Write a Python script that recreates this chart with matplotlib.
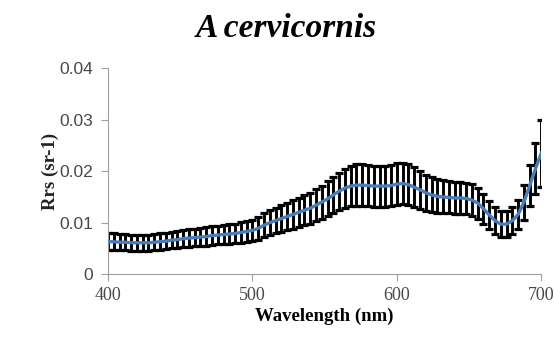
import matplotlib.pyplot as plt
import numpy as np

# spectra, every 4 nm
wavelength = list(range(400, 701, 4))
rrs_mean = [0.0063, 0.0063, 0.0062, 0.0062, 0.0061, 0.0061, 0.0061, 0.0061, 0.0062, 0.0063,
            0.0064, 0.0066, 0.0067, 0.0069, 0.0070, 0.0071, 0.0072, 0.0073, 0.0075, 0.0076,
            0.0077, 0.0078, 0.0079, 0.0081, 0.0083, 0.0085,
            0.0089, 0.0095, 0.0100, 0.0104, 0.0108, 0.0112, 0.0116, 0.0120, 0.0124, 0.0128,
            0.0134, 0.0140, 0.0146, 0.0154, 0.0161, 0.0167, 0.0171, 0.0173, 0.0173, 0.0172,
            0.0171, 0.0171, 0.0171, 0.0172, 0.0175,
            0.0176, 0.0174, 0.0169, 0.0164, 0.0158, 0.0154, 0.0151, 0.0150, 0.0149, 0.0148,
            0.0148, 0.0147, 0.0144, 0.0138, 0.0127, 0.0115, 0.0104, 0.0097, 0.0097, 0.0104,
            0.0116, 0.0140, 0.0172, 0.0205, 0.0235]
rrs_err = [0.0016, 0.0016, 0.0016, 0.0016, 0.0016, 0.0016, 0.0016, 0.0016, 0.0016, 0.0016,
           0.0016, 0.0016, 0.0017, 0.0017, 0.0017, 0.0017, 0.0018, 0.0018, 0.0018, 0.0018,
           0.0019, 0.0019, 0.0019, 0.0020, 0.0020, 0.0021,
           0.0022, 0.0023, 0.0024, 0.0025, 0.0026, 0.0027, 0.0028, 0.0028, 0.0029, 0.0030,
           0.0031, 0.0032, 0.0034, 0.0035, 0.0036, 0.0038, 0.0039, 0.0040, 0.0040, 0.0040,
           0.0040, 0.0040, 0.0040, 0.0040, 0.0040,
           0.0040, 0.0040, 0.0039, 0.0037, 0.0035, 0.0034, 0.0033, 0.0032, 0.0031, 0.0031,
           0.0031, 0.0031, 0.0031, 0.0030, 0.0029, 0.0027, 0.0026, 0.0025, 0.0025, 0.0026,
           0.0029, 0.0034, 0.0040, 0.0050, 0.0065]

serif = 'Liberation Serif'
fig = plt.figure(figsize=(5.54, 3.41), dpi=100)
ax = fig.add_axes([0.195, 0.196, 0.782, 0.604])

ax.errorbar(wavelength, rrs_mean, yerr=rrs_err, fmt='none', ecolor='black',
            elinewidth=2.1, capsize=2.8, capthick=2.3, zorder=2)
ax.plot(wavelength, rrs_mean, color='#4a7ebb', lw=2.4, zorder=3)

ax.set_xlim(400, 700)
ax.set_ylim(0, 0.04)
ax.set_xticks([400, 500, 600, 700])
ax.set_yticks([0, 0.01, 0.02, 0.03, 0.04])
ax.set_yticklabels(['0', '0.01', '0.02', '0.03', '0.04'], fontsize=12.5,
                   family='Liberation Sans')
ax.set_xticklabels(['400', '500', '600', '700'], fontsize=13, family=serif)
for s in ['top', 'right']:
    ax.spines[s].set_visible(False)
for s in ['left', 'bottom']:
    ax.spines[s].set_color('#a0a0a0')
ax.tick_params(colors='#a0a0a0', length=5, labelcolor='#484848')
ax.tick_params(axis='x', pad=4)
ax.tick_params(axis='y', pad=6)

ax.set_xlabel('Wavelength (nm)', fontsize=13.5, family=serif, fontweight='bold', labelpad=3)
ax.set_ylabel('Rrs (sr-1)', fontsize=13.5, family=serif, fontweight='bold', labelpad=0,
              color='#222222')
fig.text(0.517, 0.915, 'A cervicornis', fontsize=24, family=serif, fontweight='bold',
         style='italic', ha='center', va='center')

plt.savefig('out.png', dpi=100)
